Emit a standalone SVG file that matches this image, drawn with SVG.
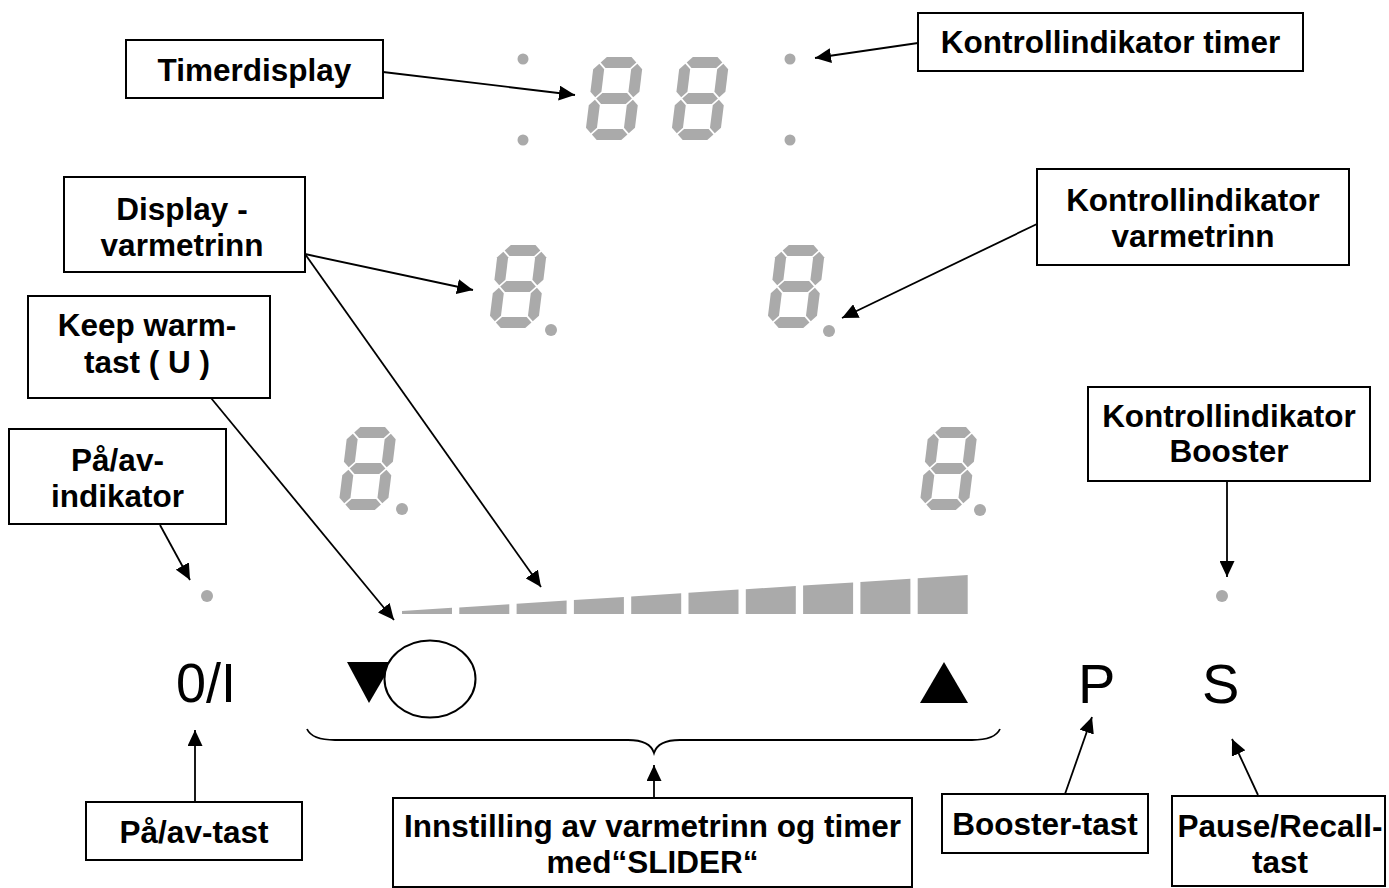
<svg xmlns="http://www.w3.org/2000/svg" width="1389" height="888" viewBox="0 0 1389 888">
<style>
.box{fill:#fff;stroke:#000;stroke-width:2}
.lbl{font-family:"Liberation Sans",Arial,sans-serif;font-weight:bold;font-size:31.5px;fill:#000;text-anchor:middle}
.key{font-family:"Liberation Sans",Arial,sans-serif;font-size:56px;fill:#000}
.seg{fill:#aaaaaa}
.ln{stroke:#000;stroke-width:1.8;fill:none}
.arr{stroke:#000;stroke-width:1.8;fill:none;marker-end:url(#ah)}
</style>
<defs>
<marker id="ah" markerUnits="userSpaceOnUse" markerWidth="17" markerHeight="15" refX="16" refY="7.5" orient="auto" viewBox="0 0 17 15"><path d="M0,0 L16,7.5 L0,15 z" fill="#000"/></marker>
<g id="d8" class="seg">
<polygon points="1.2,0 6.7,-5.5 31.3,-5.5 36.8,0 31.3,5.5 6.7,5.5"/>
<polygon points="1.2,36 6.7,30.5 31.3,30.5 36.8,36 31.3,41.5 6.7,41.5"/>
<polygon points="1.2,72 6.7,66.5 31.3,66.5 36.8,72 31.3,77.5 6.7,77.5"/>
<polygon points="0,1.2 5.5,6.7 5.5,29.3 0,34.8 -5.5,29.3 -5.5,6.7"/>
<polygon points="38,1.2 43.5,6.7 43.5,29.3 38,34.8 32.5,29.3 32.5,6.7"/>
<polygon points="0,37.2 5.5,42.7 5.5,65.3 0,70.8 -5.5,65.3 -5.5,42.7"/>
<polygon points="38,37.2 43.5,42.7 43.5,65.3 38,70.8 32.5,65.3 32.5,42.7"/>
</g>
</defs>
<rect width="1389" height="888" fill="#fff"/>

<g id="panel">
<use href="#d8" transform="translate(599.5,62.5) skewX(-7)"/>
<use href="#d8" transform="translate(685.5,62.5) skewX(-7)"/>
<circle class="seg" cx="523" cy="59" r="5.5"/>
<circle class="seg" cx="523" cy="140" r="5.5"/>
<circle class="seg" cx="790" cy="59" r="5.5"/>
<circle class="seg" cx="790" cy="140" r="5.5"/>
<use href="#d8" transform="translate(503.5,250.5) skewX(-7)"/>
<circle class="seg" cx="551" cy="330" r="6"/>
<use href="#d8" transform="translate(781.5,250.5) skewX(-7)"/>
<circle class="seg" cx="829" cy="331" r="6"/>
<use href="#d8" transform="translate(353,432.5) skewX(-7)"/>
<circle class="seg" cx="402" cy="509" r="6"/>
<use href="#d8" transform="translate(934,432.5) skewX(-7)"/>
<circle class="seg" cx="980" cy="510" r="6"/>
<circle class="seg" cx="207" cy="596" r="6"/>
<circle class="seg" cx="1222" cy="596" r="6"/>
<g class="seg">
<polygon points="402,614 402,611 452,607.8 452,614"/>
<polygon points="459.3,614 459.3,607.4 509.3,604.2 509.3,614"/>
<polygon points="516.6,614 516.6,603.7 566.6,600.5 566.6,614"/>
<polygon points="573.9,614 573.9,600.1 623.9,596.9 623.9,614"/>
<polygon points="631.2,614 631.2,596.4 681.2,593.3 681.2,614"/>
<polygon points="688.5,614 688.5,592.8 738.5,589.6 738.5,614"/>
<polygon points="745.8,614 745.8,589.2 795.8,586 795.8,614"/>
<polygon points="803.1,614 803.1,585.5 853.1,582.4 853.1,614"/>
<polygon points="860.4,614 860.4,581.9 910.4,578.7 910.4,614"/>
<polygon points="917.7,614 917.7,578.3 967.7,575 967.7,614"/>
</g>
<text class="key" x="176" y="702" font-size="62" textLength="60" lengthAdjust="spacingAndGlyphs">0/I</text>
<polygon points="347,662 393,662 369,703" fill="#000"/>
<ellipse cx="430" cy="679" rx="45.5" ry="38.5" fill="#fff" stroke="#000" stroke-width="2"/>
<polygon points="920,703 968,703 944,662" fill="#000"/>
<text class="key" x="1078" y="703">P</text>
<text class="key" x="1202" y="703">S</text>
</g>

<g id="connectors">
<line class="arr" x1="383" y1="72" x2="575" y2="95"/>
<line class="arr" x1="918" y1="43" x2="815" y2="58"/>
<line class="arr" x1="305" y1="254" x2="473" y2="290"/>
<line class="arr" x1="305" y1="254" x2="541" y2="587"/>
<line class="arr" x1="1037" y1="224" x2="842" y2="318"/>
<line class="arr" x1="211" y1="398" x2="394" y2="620"/>
<line class="arr" x1="160" y1="525" x2="190" y2="580"/>
<line class="arr" x1="1227" y1="481" x2="1227" y2="577"/>
<line class="arr" x1="195" y1="802" x2="195" y2="730"/>
<line class="arr" x1="654" y1="798" x2="654" y2="765"/>
<line class="arr" x1="1065" y1="794" x2="1092" y2="717"/>
<line class="arr" x1="1258" y1="795" x2="1232" y2="739"/>
<path class="ln" d="M307,729 Q312,740 335,740 L628,740 Q650,740 654,753 Q658,740 680,740 L972,740 Q995,740 1000,729"/>
</g>

<g id="n-timerdisplay">
<rect class="box" x="126" y="40" width="257" height="58"/>
<text class="lbl" x="254.5" y="81">Timerdisplay</text>
</g>
<g id="n-kontroll-timer">
<rect class="box" x="918" y="13" width="385" height="58"/>
<text class="lbl" x="1110.5" y="53">Kontrollindikator timer</text>
</g>
<g id="n-display-varmetrinn">
<rect class="box" x="64" y="177" width="241" height="95"/>
<text class="lbl" x="182" y="220">Display -</text>
<text class="lbl" x="182" y="256">varmetrinn</text>
</g>
<g id="n-kontroll-varmetrinn">
<rect class="box" x="1037" y="169" width="312" height="96"/>
<text class="lbl" x="1193" y="211">Kontrollindikator</text>
<text class="lbl" x="1193" y="247">varmetrinn</text>
</g>
<g id="n-keepwarm">
<rect class="box" x="28" y="296" width="242" height="102"/>
<text class="lbl" x="147" y="336">Keep warm-</text>
<text class="lbl" x="147" y="373">tast ( U )</text>
</g>
<g id="n-paav-indikator">
<rect class="box" x="9" y="429" width="217" height="95"/>
<text class="lbl" x="117.5" y="471">På/av-</text>
<text class="lbl" x="117.5" y="507">indikator</text>
</g>
<g id="n-kontroll-booster">
<rect class="box" x="1088" y="387" width="282" height="94"/>
<text class="lbl" x="1229" y="427">Kontrollindikator</text>
<text class="lbl" x="1229" y="462">Booster</text>
</g>
<g id="n-paav-tast">
<rect class="box" x="86" y="802" width="216" height="58"/>
<text class="lbl" x="194" y="843">På/av-tast</text>
</g>
<g id="n-slider">
<rect class="box" x="393" y="798" width="519" height="89"/>
<text class="lbl" x="652.5" y="837">Innstilling av varmetrinn og timer</text>
<text class="lbl" x="652.5" y="873">med“SLIDER“</text>
</g>
<g id="n-booster-tast">
<rect class="box" x="942" y="794" width="206" height="59"/>
<text class="lbl" x="1045" y="835">Booster-tast</text>
</g>
<g id="n-pause">
<rect class="box" x="1172" y="796" width="213" height="90"/>
<text class="lbl" x="1280" y="837">Pause/Recall-</text>
<text class="lbl" x="1280" y="873">tast</text>
</g>
</svg>
